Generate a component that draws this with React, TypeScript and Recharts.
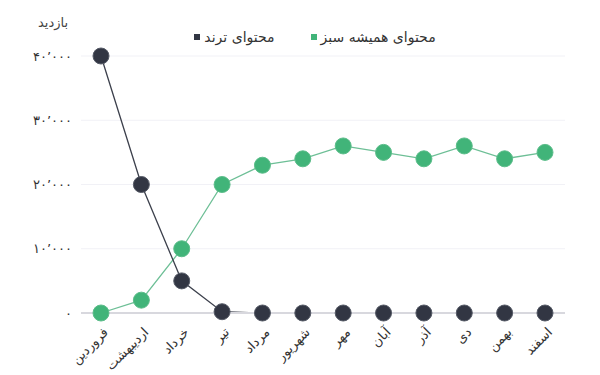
import React from 'react';
import { LineChart, Line, XAxis, YAxis, CartesianGrid } from 'recharts';

const months = ['فروردین', 'اردیبهشت', 'خرداد', 'تیر', 'مرداد', 'شهریور', 'مهر', 'آبان', 'آذر', 'دی', 'بهمن', 'اسفند'];
const trendViews = [40000, 20000, 5000, 200, 0, 0, 0, 0, 0, 0, 0, 0];
const evergreenViews = [0, 2000, 10000, 20000, 23000, 24000, 26000, 25000, 24000, 26000, 24000, 25000];
const yTicks = [0, 10000, 20000, 30000, 40000];

const seriesNames = { evergreen: 'محتوای همیشه سبز', trend: 'محتوای ترند' };
const yTitle = 'بازدید';

const data = months.map((m, i) => ({ month: m, trend: trendViews[i], evergreen: evergreenViews[i] }));

const FONT = '"DejaVu Sans", sans-serif';
const DARK = '#323643';
const GREEN = '#41b479';

const faDigits = '۰۱۲۳۴۵۶۷۸۹';
function toPersian(v: number) {
    const s = v.toString().replace(/\B(?=(\d{3})+(?!\d))/g, '٬');
    return s.replace(/\d/g, (d) => faDigits[Number(d)]);
}

const MonthTick = ({ x, y, payload }: any) => (
    <g transform={`translate(${x + 8},${y + 18})`}>
        <text x={0} y={0} textAnchor="end" transform="rotate(-45)" fill="#333" fontSize={13} fontFamily={FONT}>
            {payload.value}
        </text>
    </g>
);

export default function App() {
    return (
        <div style={{ position: 'absolute', left: 0, top: 0, width: 600, height: 375, background: '#fff', fontFamily: FONT }}>
            <div style={{ position: 'absolute', left: 38, top: 15, fontSize: 13, color: '#444' }}>{yTitle}</div>
            <div style={{ position: 'absolute', left: 0, width: 630, top: 29, display: 'flex', justifyContent: 'center', direction: 'rtl', gap: 36, fontSize: 14, color: '#333' }}>
                <div style={{ display: 'flex', alignItems: 'center', gap: 4 }}>
                    <span>{seriesNames.evergreen}</span>
                    <span style={{ width: 6, height: 6, background: GREEN, display: 'inline-block' }} />
                </div>
                <div style={{ display: 'flex', alignItems: 'center', gap: 4 }}>
                    <span>{seriesNames.trend}</span>
                    <span style={{ width: 6, height: 6, background: DARK, display: 'inline-block' }} />
                </div>
            </div>
            <LineChart width={600} height={375} data={data} margin={{ top: 56, right: 35, left: 0, bottom: 0 }}>
                <CartesianGrid vertical={false} stroke="#f1f1f6" />
                <XAxis
                    dataKey="month"
                    padding={{ left: 20, right: 20 }}
                    height={62}
                    tickLine={false}
                    tickSize={0}
                    axisLine={{ stroke: '#d8d8de', strokeWidth: 2 }}
                    tick={<MonthTick />}
                    interval={0}
                />
                <YAxis
                    width={81}
                    domain={[0, 40000]}
                    ticks={yTicks}
                    tickFormatter={toPersian}
                    axisLine={false}
                    tickLine={false}
                    tickSize={0}
                    tickMargin={9}
                    tick={{ fill: '#333', fontSize: 13, fontFamily: FONT }}
                />
                <Line
                    type="linear"
                    dataKey="evergreen"
                    stroke="#6dbf96"
                    strokeWidth={1.3}
                    dot={{ r: 8, fill: GREEN, stroke: '#5cbd8a', strokeWidth: 1 }}
                    isAnimationActive={false}
                />
                <Line
                    type="linear"
                    dataKey="trend"
                    stroke="#3c404c"
                    strokeWidth={1.3}
                    dot={{ r: 8, fill: DARK, stroke: '#555a66', strokeWidth: 1 }}
                    isAnimationActive={false}
                />
            </LineChart>
        </div>
    );
}
